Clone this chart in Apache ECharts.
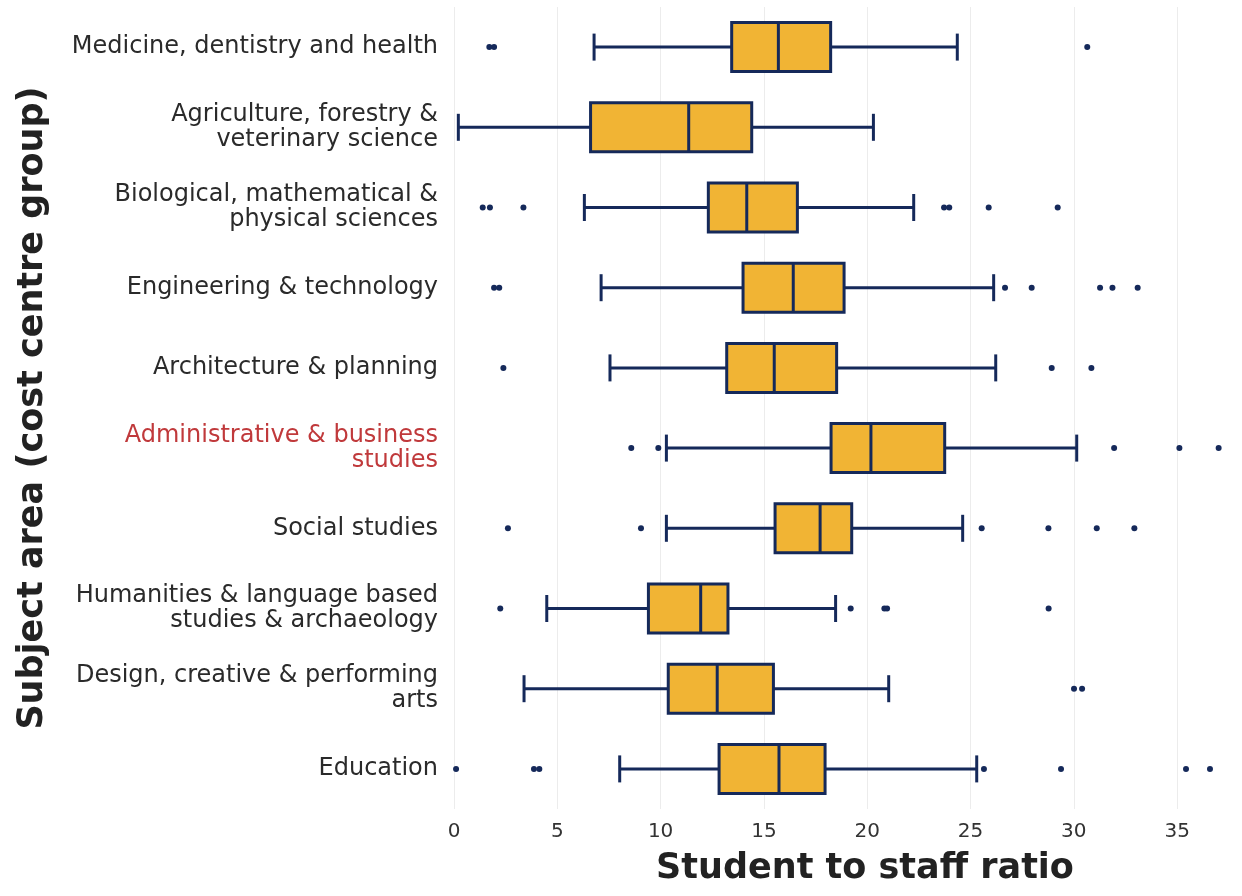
<!DOCTYPE html>
<html lang="en">
<head>
    <meta charset="UTF-8">
    <title>Student to staff ratio by subject area</title>
    <script src="https://cdn.jsdelivr.net/npm/echarts@6/dist/echarts.min.js"></script>
</head>
<body style="margin:0;background:#fff;">
<div id="main" style="width:1242px;height:896px;"></div>
<script>
    // subject areas, top to bottom
    const categories = [
        'Medicine, dentistry and health',
        'Agriculture, forestry &\nveterinary science',
        'Biological, mathematical &\nphysical sciences',
        'Engineering & technology',
        'Architecture & planning',
        'Administrative & business\nstudies',
        'Social studies',
        'Humanities & language based\nstudies & archaeology',
        'Design, creative & performing\narts',
        'Education'
    ];
    const highlighted = 'Administrative & business\nstudies';

    const whiskerLow  = [6.78, 0.21, 6.31, 7.12, 7.55, 10.28, 10.28, 4.49, 3.39, 8.02];
    const q1          = [13.44, 6.61, 12.31, 13.99, 13.20, 18.25, 15.54, 9.41, 10.37, 12.83];
    const median      = [15.70, 11.36, 14.17, 16.42, 15.50, 20.18, 17.72, 11.94, 12.74, 15.73];
    const q3          = [18.23, 14.41, 16.62, 18.88, 18.52, 23.75, 19.25, 13.26, 15.46, 17.96];
    const whiskerHigh = [24.36, 20.30, 22.25, 26.12, 26.22, 30.14, 24.62, 18.47, 21.04, 25.30];

    const outliers = [
        [1.71, 1.94, 30.65],
        [],
        [1.39, 1.74, 3.36, 23.72, 23.97, 25.88, 29.22],
        [1.94, 2.19, 26.67, 27.96, 31.27, 31.87, 33.09],
        [2.39, 28.93, 30.85],
        [8.58, 9.89, 31.95, 35.11, 37.01],
        [2.61, 9.05, 25.54, 28.77, 31.11, 32.93],
        [2.24, 19.20, 20.83, 20.96, 28.78],
        [30.01, 30.40],
        [0.1, 3.87, 4.13, 25.65, 29.38, 35.43, 36.59]
    ];

    const xTicks = [0, 5, 10, 15, 20, 25, 30, 35];

    const boxFill = '#f1b434';
    const navy = '#15295a';

    let boxData = categories.map((c, i) => [whiskerLow[i], q1[i], median[i], q3[i], whiskerHigh[i], i]);
    let pointData = [];
    outliers.forEach((list, i) => {
        list.forEach(v => pointData.push([v, i]));
    });

    function renderBox(params, api) {
        let cat = api.value(5);
        let y = api.coord([0, cat])[1];
        let xLow = api.coord([api.value(0), cat])[0];
        let xQ1 = api.coord([api.value(1), cat])[0];
        let xMed = api.coord([api.value(2), cat])[0];
        let xQ3 = api.coord([api.value(3), cat])[0];
        let xHigh = api.coord([api.value(4), cat])[0];
        let hb = 24.5, hc = 13.5;
        let lineStyle = {stroke: navy, lineWidth: 3};
        return {
            type: 'group',
            children: [
                {type: 'line', shape: {x1: xLow, y1: y, x2: xQ1, y2: y}, style: lineStyle},
                {type: 'line', shape: {x1: xQ3, y1: y, x2: xHigh, y2: y}, style: lineStyle},
                {type: 'line', shape: {x1: xLow, y1: y - hc, x2: xLow, y2: y + hc}, style: lineStyle},
                {type: 'line', shape: {x1: xHigh, y1: y - hc, x2: xHigh, y2: y + hc}, style: lineStyle},
                {type: 'rect', shape: {x: xQ1, y: y - hb, width: xQ3 - xQ1, height: hb * 2},
                    style: {fill: boxFill, stroke: navy, lineWidth: 3}},
                {type: 'line', shape: {x1: xMed, y1: y - hb, x2: xMed, y2: y + hb}, style: lineStyle}
            ]
        };
    }

    var myChart = echarts.init(document.getElementById('main'));
    var option = {
        animation: false,
        grid: {left: 454, right: 0, top: 7, bottom: 87},
        xAxis: {
            type: 'value',
            min: 0,
            max: 38.14,
            interval: 5,
            name: 'Student to staff ratio',
            nameLocation: 'middle',
            nameGap: 42,
            nameTextStyle: {fontFamily: 'DejaVu Sans', fontWeight: 'bold', fontSize: 35, color: '#222', padding: [0, 0, 0, 34]},
            axisLine: {show: false},
            axisTick: {show: false},
            axisLabel: {
                fontFamily: 'DejaVu Sans',
                fontSize: 20,
                color: '#333',
                margin: 13,
                showMaxLabel: false,
                formatter: v => xTicks.indexOf(v) >= 0 ? String(v) : ''
            },
            splitLine: {show: true, lineStyle: {color: '#ececec', width: 1}}
        },
        yAxis: {
            type: 'category',
            inverse: true,
            data: categories.map(c => c === highlighted ? {value: c, textStyle: {color: '#c0393b'}} : c),
            name: 'Subject area (cost centre group)',
            nameLocation: 'middle',
            nameRotate: 90,
            nameGap: 404,
            nameTextStyle: {fontFamily: 'DejaVu Sans', fontWeight: 'bold', fontSize: 35, color: '#222'},
            axisLine: {show: false},
            axisTick: {show: false},
            splitLine: {show: false},
            axisLabel: {
                fontFamily: 'DejaVu Sans',
                fontSize: 24,
                lineHeight: 25,
                color: '#2a2a2a',
                margin: 16,
                align: 'right'
            }
        },
        series: [
            {
                name: 'box',
                type: 'custom',
                renderItem: renderBox,
                encode: {x: [0, 1, 2, 3, 4], y: 5},
                data: boxData,
                z: 2
            },
            {
                name: 'outliers',
                type: 'scatter',
                symbol: 'circle',
                symbolSize: 6,
                itemStyle: {color: navy, opacity: 1},
                data: pointData,
                clip: false,
                z: 3
            }
        ]
    };
    myChart.setOption(option);
</script>
</body>
</html>
